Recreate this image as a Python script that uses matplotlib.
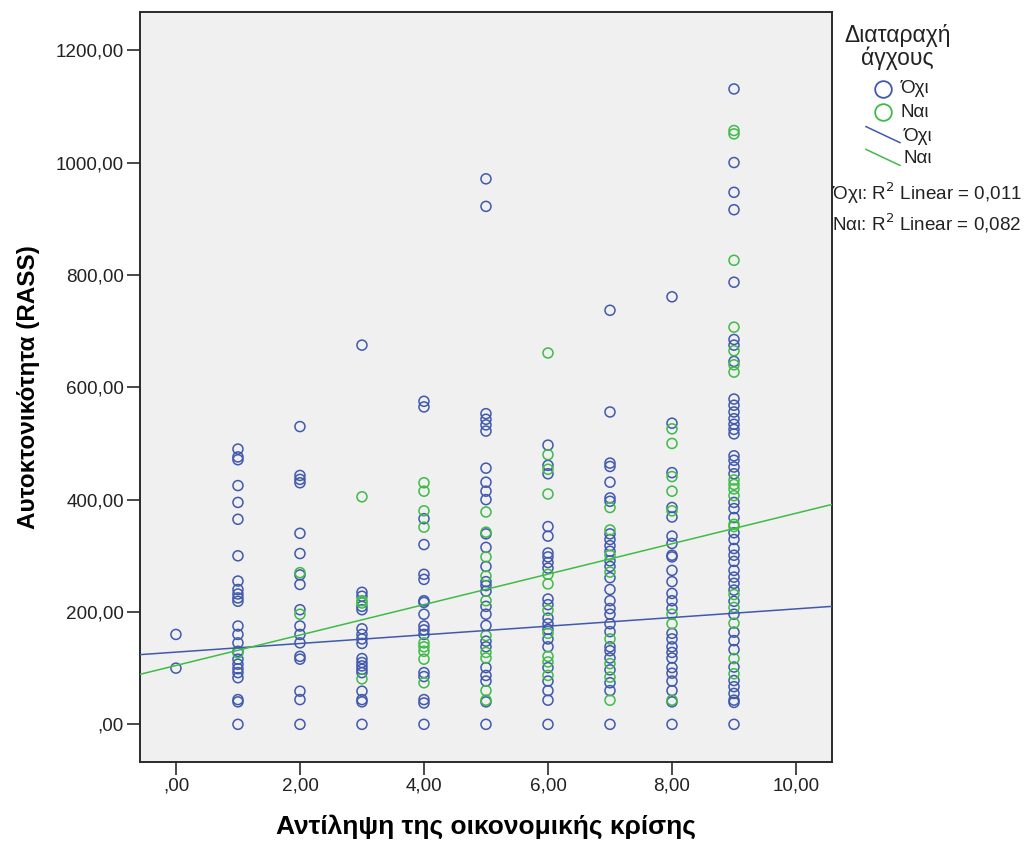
import numpy as np
import matplotlib.pyplot as plt
from matplotlib.lines import Line2D

plt.rcParams['font.family'] = ['Liberation Sans', 'DejaVu Sans']

# RASS scores per perception-of-crisis score, group "Όχι" (no anxiety disorder)
oxi_0 = [160, 100]
oxi_1 = [490, 476, 471, 425, 395, 365, 300, 255, 240, 232, 225, 219, 175, 160, 145, 130, 116, 107, 99, 92, 83, 44, 40, 0]
oxi_2 = [530, 443, 436, 430, 340, 304, 266, 249, 204, 175, 160, 145, 121, 116, 59, 44, 0]
oxi_3 = [675, 235, 228, 210, 204, 170, 160, 152, 144, 117, 110, 104, 98, 92, 59, 44, 40, 0]
oxi_4 = [575, 565, 366, 320, 267, 258, 220, 217, 196, 175, 168, 160, 92, 85, 44, 38, 0]
oxi_5 = [971, 922, 553, 543, 533, 522, 456, 431, 415, 400, 339, 315, 281, 254, 247, 237, 210, 196,
         176, 148, 138, 101, 87, 77, 40, 0]
oxi_6 = [497, 461, 446, 352, 335, 305, 298, 288, 278, 223, 213, 189, 179, 169, 152, 138, 101, 77, 60, 43, 0]
oxi_7 = [737, 556, 465, 459, 431, 403, 397, 339, 329, 318, 308, 291, 281, 261, 240, 220, 206, 196,
         179, 165, 138, 131, 118, 97, 74, 60, 0]
oxi_8 = [761, 536, 448, 386, 369, 335, 322, 301, 298, 274, 254, 233, 220, 206, 162, 152, 138, 128,
         118, 101, 91, 77, 60, 40, 0]
oxi_9 = [1131, 1000, 947, 916, 787, 685, 675, 646, 579, 568, 556, 544, 534, 525, 517, 478, 470, 458,
         446, 395, 384, 368, 341, 329, 313, 301, 290, 274, 262, 251, 239, 219, 196, 164, 149, 133,
         102, 78, 67, 55, 43, 39, 0]

# group "Ναι" (anxiety disorder)
nai_1 = [127]
nai_2 = [270, 196]
nai_3 = [405, 220, 216, 81]
nai_4 = [430, 415, 380, 351, 145, 138, 130, 116, 74]
nai_5 = [378, 342, 298, 264, 220, 158, 128, 118, 60, 43]
nai_6 = [661, 480, 454, 410, 267, 250, 203, 162, 121, 111, 87]
nai_7 = [386, 346, 301, 271, 152, 108, 84, 43]
nai_8 = [526, 500, 441, 415, 380, 196, 179, 43]
nai_9 = [1057, 1051, 826, 707, 665, 640, 627, 435, 427, 419, 407, 356, 352, 231, 208, 180, 117, 90]

# fitted linear lines (intercept, slope)
oxi_fit = [128.5, 7.7]
nai_fit = [104.7, 27.1]
r2_oxi = '0,011'
r2_nai = '0,082'

blue = '#4159ad'
green = '#3fbb47'
txt = '#222222'

oxi_cols = [oxi_0, oxi_1, oxi_2, oxi_3, oxi_4, oxi_5, oxi_6, oxi_7, oxi_8, oxi_9]
nai_cols = {1: nai_1, 2: nai_2, 3: nai_3, 4: nai_4, 5: nai_5, 6: nai_6, 7: nai_7, 8: nai_8, 9: nai_9}

oxi_x = np.concatenate([[k] * len(v) for k, v in enumerate(oxi_cols)])
oxi_y = np.concatenate(oxi_cols)
nai_x = np.concatenate([[k] * len(v) for k, v in nai_cols.items()])
nai_y = np.concatenate(list(nai_cols.values()))

fig = plt.figure(figsize=(10.27, 8.44), dpi=100)
ax = fig.add_axes([0.1363, 0.0972, 0.6738, 0.8886])
ax.set_facecolor('#f0f0f0')

ax.scatter(oxi_x, oxi_y, s=52, facecolors='none', edgecolors=blue, linewidths=1.1, zorder=2)
ax.scatter(nai_x, nai_y, s=52, facecolors='none', edgecolors=green, linewidths=1.1, zorder=3)

xl = np.array([-0.58, 10.58])
ax.plot(xl, oxi_fit[0] + oxi_fit[1] * xl, color=blue, lw=1.1, zorder=4)
ax.plot(xl, nai_fit[0] + nai_fit[1] * xl, color=green, lw=1.1, zorder=4)

ax.set_xlim(xl)
ax.set_ylim(-67, 1268)

def comma_fmt(v):
    s = f'{v:.2f}'.replace('.', ',')
    return s[1:] if s.startswith('0,') else s

xt = np.arange(0, 11, 2)
yt = np.arange(0, 1201, 200)
ax.set_xticks(xt)
ax.set_xticklabels([comma_fmt(v) for v in xt])
ax.set_yticks(yt)
ax.set_yticklabels([comma_fmt(v) for v in yt])
ax.tick_params(axis='both', labelsize=13.6, length=9.5, width=1.2, pad=2,
               color='#2a2a2a', labelcolor=txt)
for sp in ax.spines.values():
    sp.set_color('#2a2a2a')
    sp.set_linewidth(1.4)

ax.set_xlabel('Αντίληψη της οικονομικής κρίσης', fontsize=19, fontweight='bold', labelpad=14)
ax.set_ylabel('Αυτοκτονικότητα (RASS)', fontsize=17.5, fontweight='bold', labelpad=11)

# legend drawn at the right side
fig.text(0.874, 0.958, 'Διαταραχή', fontsize=16.5, ha='center', va='center', color=txt)
fig.text(0.874, 0.931, 'άγχους', fontsize=16.5, ha='center', va='center', color=txt)
fig.add_artist(Line2D([0.860], [0.895], marker='o', markersize=12, mfc='none', mec=blue, mew=1.3,
                      transform=fig.transFigure))
fig.add_artist(Line2D([0.860], [0.867], marker='o', markersize=12, mfc='none', mec=green, mew=1.3,
                      transform=fig.transFigure))
fig.text(0.877, 0.895, 'Όχι', fontsize=13.6, va='center', color=txt)
fig.text(0.877, 0.867, 'Ναι', fontsize=13.6, va='center', color=txt)
fig.add_artist(Line2D([0.8432, 0.8763], [0.850, 0.831], color=blue, lw=1.1, transform=fig.transFigure))
fig.add_artist(Line2D([0.8432, 0.8763], [0.823, 0.804], color=green, lw=1.1, transform=fig.transFigure))
fig.text(0.880, 0.838, 'Όχι', fontsize=13.6, va='center', color=txt)
fig.text(0.880, 0.812, 'Ναι', fontsize=13.6, va='center', color=txt)
fig.text(0.810, 0.771, 'Όχι: R$^2$ Linear = ' + r2_oxi, fontsize=13.6, va='center', color=txt)
fig.text(0.810, 0.736, 'Ναι: R$^2$ Linear = ' + r2_nai, fontsize=13.6, va='center', color=txt)

fig.savefig('out.png', dpi=100)
